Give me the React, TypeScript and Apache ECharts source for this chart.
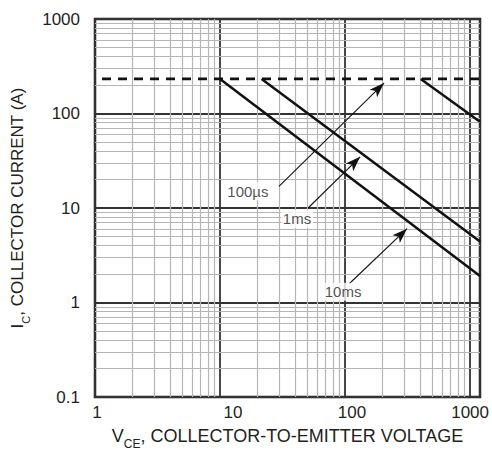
import React, { useEffect, useRef } from "react";
import * as echarts from "echarts";

// Safe operating area data
const currentLimit: [number, number][] = [
  [1, 232],
  [1200, 232],
];
const pulse10ms: [number, number][] = [
  [10, 232],
  [1200, 1.91],
];
const pulse1ms: [number, number][] = [
  [21.5, 232],
  [1200, 4.43],
];
const pulse100us: [number, number][] = [
  [403, 232],
  [1200, 82],
];

// Log-paper minor grid lines
const xMinorGrid = [2, 3, 4, 5, 6, 7, 8, 9, 20, 30, 40, 50, 60, 70, 80, 90, 200, 300, 400, 500, 600, 700, 800, 900];
const yMinorGrid = [
  0.2, 0.3, 0.4, 0.5, 0.6, 0.7, 0.8, 0.9, 2, 3, 4, 5, 6, 7, 8, 9, 20, 30, 40, 50, 60, 70, 80, 90, 200, 300, 400, 500,
  600, 700, 800, 900,
];

// Tick labels (x labels are slightly off-centre in the reference)
const xTickLabels = ["1", "10", "100", "1000"];
const xTickShift = [2, 13, 7, 0];

// Annotation arrows: [from, to]
const arrowFrom: [number, number][] = [
  [29.6, 16.9],
  [50.6, 10],
  [108, 1.58],
];
const arrowTo: [number, number][] = [
  [205, 210],
  [132, 34.8],
  [313, 6.04],
];
const annotationLabels = ["100µs", "1ms", "10ms"];
const annotationPos: [number, number][] = [
  [16.7, 15.0],
  [41.3, 7.67],
  [96.4, 1.3],
];

const FONT = "'Liberation Sans', Arial, sans-serif";
const TEXT = "#231f20";

export default function App() {
  const ref = useRef<HTMLDivElement>(null);
  useEffect(() => {
    if (!ref.current) return;
    const chart = echarts.init(ref.current, undefined, { renderer: "svg" });
    const minorLine = { color: "#b5b5b5", width: 1.2, type: "solid" as const };
    const xRich: any = {};
    xTickLabels.forEach((t, i) => {
      xRich["t" + i] = {
        fontSize: 17,
        color: TEXT,
        fontFamily: FONT,
        padding: [0, 0, 0, xTickShift[i] * 2],
      };
    });
    const option: any = {
      animation: false,
      backgroundColor: "#fff",
      textStyle: { fontFamily: FONT },
      grid: {
        left: 95,
        right: 12,
        top: 19,
        bottom: 52,
        show: true,
        borderColor: "#231f20",
        borderWidth: 2.5,
        backgroundColor: "transparent",
      },
      xAxis: {
        type: "log",
        logBase: 10,
        min: 1,
        max: 1200,
        axisLine: { show: false },
        axisTick: { show: false },
        splitLine: { show: true, lineStyle: { color: "#333", width: 1.8 } },
        minorTick: { show: false },
        axisLabel: {
          color: TEXT,
          fontSize: 17,
          margin: 7,
          fontFamily: FONT,
          formatter: (v: number) => {
            const s = String(Math.round(v));
            const i = xTickLabels.indexOf(s);
            return i >= 0 ? `{t${i}|${s}}` : s;
          },
          rich: xRich,
        },
        name: "{a|V}{b|CE}{a|, COLLECTOR-TO-EMITTER VOLTAGE}",
        nameLocation: "middle",
        nameGap: 30,
        nameTextStyle: {
          color: TEXT,
          fontFamily: FONT,
          rich: {
            a: { fontSize: 18, color: TEXT, fontFamily: FONT, verticalAlign: "top", lineHeight: 20 },
            b: { fontSize: 12, color: TEXT, fontFamily: FONT, verticalAlign: "top", lineHeight: 20, padding: [11, 0, 0, 0] },
          },
        },
      },
      yAxis: {
        type: "log",
        logBase: 10,
        min: 0.1,
        max: 1000,
        axisLine: { show: false },
        axisTick: { show: false },
        splitLine: { show: true, lineStyle: { color: "#333", width: 1.8 } },
        axisLabel: {
          color: TEXT,
          fontSize: 17,
          margin: 15,
          fontFamily: FONT,
          formatter: (v: number) => String(Number(v.toPrecision(6))),
        },
        name: "{a|I}{b|C}{a|, COLLECTOR CURRENT (A)}",
        nameLocation: "middle",
        nameRotate: 90,
        nameGap: 60,
        nameTextStyle: {
          color: TEXT,
          fontFamily: FONT,
          rich: {
            a: { fontSize: 17, color: TEXT, fontFamily: FONT, verticalAlign: "top", lineHeight: 20 },
            b: { fontSize: 11, color: TEXT, fontFamily: FONT, verticalAlign: "top", lineHeight: 20, padding: [11, 0, 0, 0] },
          },
        },
      },
      series: [
        {
          type: "line",
          name: "grid",
          data: [],
          z: 1,
          silent: true,
          markLine: {
            z: 1,
            silent: true,
            symbol: ["none", "none"],
            label: { show: false },
            lineStyle: minorLine,
            data: [
              ...xMinorGrid.map((v) => ({ xAxis: v, lineStyle: minorLine })),
              ...yMinorGrid.map((v) => ({ yAxis: v, lineStyle: minorLine })),
            ],
          },
        },
        {
          type: "line",
          name: "limit",
          data: currentLimit,
          z: 4,
          symbol: "none",
          lineStyle: { color: "#111", width: 2.7, type: [9, 7], dashOffset: 9 },
        },
        {
          type: "line",
          name: "10ms",
          data: pulse10ms,
          z: 4,
          symbol: "none",
          lineStyle: { color: "#111", width: 2.5 },
        },
        {
          type: "line",
          name: "1ms",
          data: pulse1ms,
          z: 4,
          symbol: "none",
          lineStyle: { color: "#111", width: 2.5 },
        },
        {
          type: "line",
          name: "100us",
          data: pulse100us,
          z: 4,
          symbol: "none",
          lineStyle: { color: "#111", width: 2.5 },
        },
        {
          type: "scatter",
          name: "labels",
          z: 6,
          symbolSize: 1,
          itemStyle: { color: "rgba(0,0,0,0)" },
          data: annotationPos.map((p, i) => [p[0], p[1], annotationLabels[i]]),
          label: {
            show: true,
            position: "inside",
            formatter: (p: any) => p.data[2],
            color: TEXT,
            fontSize: 15,
            fontFamily: FONT,
            backgroundColor: "#fff",
            padding: [2, 2, 1, 2],
          },
          markLine: {
            z: 5,
            silent: true,
            symbol: ["none", "arrow"],
            symbolSize: [8, 15],
            label: { show: false },
            lineStyle: { color: "#111", width: 1.1, type: "solid" },
            itemStyle: { color: "#111" },
            data: arrowFrom.map((f, i) => [{ coord: f }, { coord: arrowTo[i] }]),
          },
        },
      ],
    };
    chart.setOption(option);
    return () => chart.dispose();
  }, []);
  return (
    <div
      ref={ref}
      style={{ position: "fixed", left: 0, top: 0, width: 492, height: 455, background: "#fff" }}
    />
  );
}
